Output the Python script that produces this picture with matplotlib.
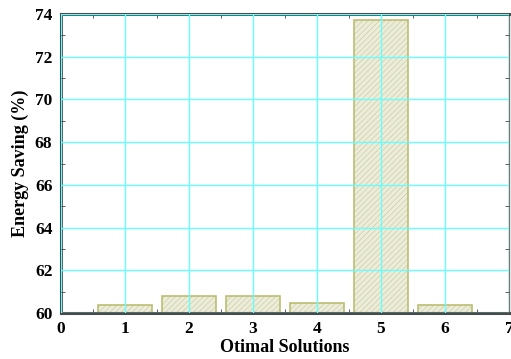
import matplotlib
matplotlib.use('Agg')
from matplotlib import pyplot as plt
from matplotlib.ticker import MultipleLocator

solutions = [1, 2, 3, 4, 5, 6]
saving = [60.39, 60.78, 60.78, 60.48, 73.72, 60.39]

plt.rcParams['font.family'] = 'Liberation Serif'
plt.rcParams['font.weight'] = 'bold'
plt.rcParams['hatch.color'] = '#e2e2cc'
plt.rcParams['hatch.linewidth'] = 0.3

fig = plt.figure(figsize=(5.11, 3.59), dpi=100)
ax = fig.add_axes([0.119, 0.128, 0.877, 0.833])

ax.bar(solutions, [v - 60 for v in saving], bottom=60, width=0.84,
       color='#ececdc', edgecolor='#bdbd72', linewidth=1.2, hatch='//////', zorder=2)

ax.set_xlim(0, 7)
ax.set_ylim(60, 74)
ax.xaxis.set_major_locator(MultipleLocator(1))
ax.xaxis.set_minor_locator(MultipleLocator(0.5))
ax.yaxis.set_major_locator(MultipleLocator(2))
ax.yaxis.set_minor_locator(MultipleLocator(1))
ax.grid(True, which='major', color='#66ffff', linewidth=1.0, zorder=3)
ax.set_axisbelow(False)
ax.tick_params(which='both', direction='in', top=True, right=True, labelsize=12.5, colors='#444444',
               labelcolor='black')
ax.tick_params(which='major', length=0, pad=6)
ax.tick_params(which='minor', length=3)

for side in ['left', 'bottom', 'top']:
    ax.spines[side].set_linewidth(2.2)
    ax.spines[side].set_color('#4a4a4a')
ax.spines['right'].set_linewidth(1)
ax.spines['right'].set_color('#777777')

ax.set_xlabel('Otimal Solutions', fontsize=13, fontweight='bold', labelpad=1)
ax.set_ylabel('Energy Saving (%)', fontsize=13, fontweight='bold', labelpad=4)

fig.savefig('out.png', dpi=100)
